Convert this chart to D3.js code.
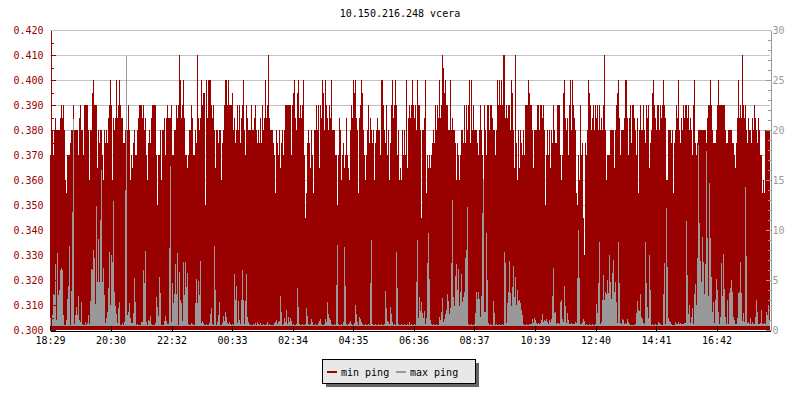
<!DOCTYPE html>
<html><head><meta charset="utf-8">
<script src="https://cdn.jsdelivr.net/npm/d3@7"></script>
<style>
html,body{margin:0;padding:0;background:#fff;}
svg{display:block;}
text{font-family:"DejaVu Sans Mono",monospace;font-size:10px;}
</style></head><body>
<svg id="chart" width="800" height="400"></svg>
<script>
const title = "10.150.216.248 vcera";
const startLabel = "18:29";
const stepMinutes = 2;
const spanMinutes = 1440;
const timeLabels = ["18:29","20:30","22:32","00:33","02:34","04:35","06:36","08:37","10:39","12:40","14:41","16:42"];
const leftTicks = [0.300,0.310,0.320,0.330,0.340,0.350,0.360,0.370,0.380,0.390,0.400,0.410,0.420];
const leftMinor = [0.305,0.315,0.325,0.335,0.345,0.355,0.365,0.375,0.385,0.395,0.405,0.415];
const rightTicks = [0,5,10,15,20,25,30];
const rightMinor = [1,2,3,4,6,7,8,9,11,12,13,14,16,17,18,19,21,22,23,24,26,27,28,29];
const seriesNames = ["min ping","max ping"];
const seriesColors = ["#990000","#999999"];

const minPing = [
.370,.370,.380,.370,.380,.385,.380,.380,.380,.380,
.385,.390,.385,.390,.380,.360,.355,.370,.370,.370,
.375,.380,.380,.390,.380,.380,.380,.380,.370,.385,
.390,.380,.380,.370,.390,.390,.390,.390,.380,.360,
.380,.380,.395,.400,.390,.390,.390,.365,.380,.375,
.380,.380,.370,.360,.380,.375,.380,.375,.385,.390,
.400,.390,.360,.385,.380,.385,.400,.385,.390,.400,
.390,.385,.385,.375,.375,.380,.370,.380,.390,.380,
.360,.370,.365,.375,.380,.370,.370,.380,.385,.390,
.390,.390,.385,.390,.380,.385,.370,.360,.375,.380,
.375,.385,.390,.390,.390,.390,.370,.350,.370,.370,
.380,.360,.380,.380,.385,.370,.385,.390,.385,.385,
.385,.390,.370,.370,.380,.380,.390,.385,.390,.410,
.400,.385,.390,.400,.385,.370,.370,.365,.370,.380,
.380,.390,.385,.370,.370,.380,.375,.410,.385,.380,
.385,.400,.390,.395,.395,.350,.400,.385,.400,.400,
.400,.390,.385,.390,.380,.365,.380,.380,.375,.380,
.380,.360,.375,.380,.390,.400,.400,.390,.400,.390,
.390,.390,.395,.380,.385,.375,.380,.390,.380,.390,
.375,.385,.390,.400,.380,.370,.390,.385,.380,.380,
.380,.390,.380,.380,.385,.390,.380,.375,.380,.375,
.385,.375,.390,.380,.385,.400,.385,.390,.410,.385,
.380,.380,.380,.375,.370,.355,.380,.375,.370,.380,
.365,.375,.380,.370,.380,.390,.390,.390,.390,.390,
.390,.370,.390,.395,.400,.385,.380,.395,.400,.385,
.390,.385,.390,.400,.370,.345,.355,.375,.380,.375,
.365,.380,.370,.355,.380,.380,.390,.380,.390,.365,
.390,.385,.400,.395,.380,.400,.390,.385,.380,.390,
.385,.400,.380,.380,.380,.370,.370,.350,.370,.385,
.380,.360,.370,.375,.365,.370,.385,.370,.365,.360,
.380,.390,.385,.400,.395,.400,.385,.380,.355,.385,
.390,.400,.395,.380,.370,.360,.370,.380,.390,.375,
.385,.380,.375,.380,.360,.375,.380,.385,.380,.380,
.370,.400,.400,.390,.380,.375,.390,.370,.380,.360,
.375,.390,.400,.385,.390,.400,.390,.370,.380,.360,
.365,.360,.380,.370,.380,.370,.400,.365,.385,.390,
.385,.390,.400,.390,.385,.390,.380,.400,.390,.390,
.380,.345,.380,.380,.385,.400,.355,.370,.365,.370,
.365,.370,.375,.380,.375,.390,.380,.390,.385,.400,
.385,.390,.410,.405,.395,.400,.390,.390,.380,.380,
.400,.380,.385,.380,.380,.375,.360,.375,.370,.360,
.370,.380,.380,.375,.390,.375,.390,.380,.390,.400,
.375,.400,.380,.390,.380,.380,.380,.375,.370,.380,
.390,.380,.370,.355,.390,.380,.370,.390,.390,.380,
.390,.390,.385,.380,.380,.370,.380,.400,.390,.400,
.390,.400,.390,.410,.410,.385,.390,.385,.390,.390,
.380,.400,.395,.380,.365,.410,.375,.360,.380,.365,
.380,.375,.370,.380,.370,.390,.390,.390,.400,.395,
.390,.390,.380,.365,.380,.380,.380,.390,.390,.380,
.390,.390,.385,.390,.380,.350,.370,.380,.370,.380,
.365,.380,.375,.390,.380,.375,.375,.390,.390,.390,
.370,.360,.370,.395,.400,.385,.380,.385,.370,.390,
.400,.380,.400,.390,.385,.380,.355,.350,.370,.360,
.390,.370,.375,.345,.330,.375,.370,.380,.400,.395,
.390,.380,.385,.390,.380,.390,.385,.390,.380,.390,
.380,.385,.380,.390,.410,.380,.360,.370,.370,.370,
.380,.380,.380,.380,.365,.380,.390,.395,.400,.385,
.370,.380,.380,.380,.385,.400,.400,.385,.370,.385,
.390,.375,.390,.390,.385,.380,.370,.385,.355,.380,
.390,.380,.380,.390,.380,.375,.390,.385,.390,.365,
.375,.380,.395,.400,.390,.385,.380,.390,.390,.380,
.390,.385,.390,.400,.390,.385,.360,.360,.380,.380,
.380,.375,.380,.355,.375,.380,.390,.385,.400,.380,
.375,.385,.380,.390,.385,.390,.390,.385,.390,.380,
.385,.380,.370,.390,.400,.375,.370,.375,.380,.380,
.380,.380,.380,.380,.380,.380,.375,.385,.390,.390,
.400,.390,.380,.375,.375,.375,.380,.390,.400,.390,
.390,.390,.390,.390,.390,.380,.375,.375,.380,.380,
.380,.380,.375,.375,.370,.365,.375,.385,.400,.385,
.390,.385,.410,.390,.385,.390,.380,.375,.385,.380,
.380,.375,.385,.380,.390,.385,.380,.375,.385,.380,
.370,.370,.355,.360,.355,.380,.380,.380,.380,.380
];

const maxPing = [
1.2,4.7,1.5,3.6,3.5,6.6,1.0,7.7,3.5,4.0,
6.0,6.2,6.0,1.5,0.5,0.5,1.0,3.1,4.4,8.4,
0.5,3.9,11.8,21.1,0.6,1.5,2.3,1.5,3.4,1.0,
0.8,2.8,0.6,0.5,0.5,0.8,0.5,0.7,1.5,0.6,
2.9,6.1,6.0,8.0,7.2,2.6,12.4,4.8,9.1,4.8,
11.0,16.0,4.8,6.2,3.5,0.7,1.2,1.8,4.2,7.8,
2.5,7.5,6.8,12.9,3.8,2.4,1.6,0.7,2.2,2.8,
0.5,0.5,0.7,0.5,0.8,14.0,27.4,1.5,1.8,2.7,
1.2,0.7,0.7,1.7,5.2,2.8,0.5,0.6,0.5,0.5,
0.5,0.8,0.8,6.0,4.7,7.9,0.8,0.5,1.0,0.9,
1.4,0.6,0.5,0.5,0.5,0.7,3.3,2.3,1.4,5.3,
3.7,0.5,0.5,0.5,0.9,1.4,0.9,0.6,0.6,8.2,
16.4,0.8,4.7,2.7,3.6,6.6,3.6,7.7,0.5,5.8,
3.0,2.7,0.9,6.8,3.5,6.8,4.3,5.7,0.6,0.5,
0.5,0.7,0.6,0.5,0.5,2.7,5.1,2.7,4.9,3.5,
6.9,0.7,0.9,0.7,0.5,0.5,0.6,0.5,0.5,0.7,
1.6,2.2,0.6,0.5,8.4,4.0,0.5,0.8,1.5,2.8,
0.5,0.5,0.7,1.4,0.9,1.8,1.3,0.7,0.6,0.8,
0.6,0.5,0.6,0.5,5.6,3.0,4.4,0.7,2.9,1.0,
0.6,3.0,6.0,3.0,0.6,2.9,5.6,1.3,0.8,0.6,
0.5,0.5,0.5,0.6,0.5,0.7,0.5,0.8,0.6,0.5,
0.7,0.5,0.5,0.6,0.5,0.5,0.6,0.8,0.5,0.6,
0.5,0.5,0.5,0.5,0.7,0.8,1.0,0.6,0.8,0.9,
3.4,1.8,0.5,0.6,1.2,0.8,2.0,0.6,1.3,0.8,
1.2,0.9,0.5,0.6,0.5,0.5,0.6,4.2,2.3,0.6,
0.5,0.5,0.6,0.5,0.5,0.6,2.2,1.4,0.6,0.5,
0.6,1.1,0.8,0.5,0.5,0.6,0.5,0.5,0.7,0.9,
1.1,0.6,0.5,0.5,0.6,1.1,0.8,2.8,1.6,1.2,
1.0,0.6,0.5,0.5,0.6,0.5,4.5,8.5,0.6,0.5,
0.5,0.6,0.5,0.8,8.3,4.4,0.6,0.5,0.6,0.7,
0.9,0.6,0.5,0.5,0.7,2.5,1.6,0.8,0.5,1.3,
1.1,0.8,0.6,0.5,0.5,0.6,0.5,0.5,0.6,0.5,
4.7,9.0,0.6,0.5,0.5,0.6,0.5,0.5,0.6,0.5,
0.5,0.6,0.5,0.5,0.6,3.9,2.2,0.9,0.8,0.6,
2.3,1.6,0.8,0.5,0.6,0.5,7.8,4.2,0.6,0.5,
0.5,0.6,0.5,0.5,0.6,0.5,0.5,0.6,0.5,0.8,
0.5,0.6,0.5,0.5,0.6,0.5,4.8,9.0,1.2,3.3,
1.9,2.8,1.7,1.2,1.9,0.6,1.2,6.7,9.7,5.1,
1.0,0.6,0.5,0.6,0.5,0.5,0.6,0.5,0.5,1.3,
1.0,1.8,3.2,0.8,1.1,1.6,2.0,3.6,2.9,1.6,
2.2,6.7,13.0,3.3,2.4,5.4,6.6,4.0,6.1,2.4,
3.8,5.6,2.8,3.3,3.8,7.2,8.0,12.3,0.6,0.5,
0.5,0.6,0.5,0.5,0.6,1.7,3.8,3.1,3.8,3.1,
1.3,3.4,11.7,15.1,1.8,1.8,9.7,5.0,0.7,0.5,
0.6,0.5,0.5,2.9,1.7,0.5,0.6,0.5,0.5,0.6,
0.5,0.5,0.6,0.5,7.8,6.7,0.7,2.7,3.8,6.9,
3.7,2.4,4.3,6.4,3.3,5.3,2.5,4.0,2.9,3.0,
2.7,2.0,1.5,0.6,0.5,0.5,0.6,0.5,0.5,0.6,
0.6,0.6,1.1,0.7,1.2,1.0,0.7,0.6,0.7,0.6,
0.7,1.0,1.6,0.8,1.0,0.9,1.1,0.8,0.6,1.0,
0.8,1.1,3.4,6.2,1.7,1.8,0.6,0.7,0.7,0.6,
2.8,3.0,1.1,0.8,4.4,2.4,0.7,1.7,1.0,0.6,
0.6,0.7,0.6,0.6,0.6,0.8,0.7,5.2,10.0,5.2,
0.6,0.6,0.8,1.1,0.9,0.5,0.6,0.5,0.5,0.6,
0.5,0.5,0.6,0.5,0.5,0.6,2.6,1.7,4.7,8.8,
0.6,0.8,3.0,5.5,3.0,3.8,3.6,5.0,3.7,7.5,
4.8,3.1,5.7,7.0,3.8,4.8,2.8,0.7,8.8,4.7,
0.7,0.6,1.1,1.0,0.6,0.7,0.6,1.1,0.8,0.6,
0.5,0.5,0.5,0.5,0.5,0.6,1.7,2.9,2.0,1.9,
3.6,1.3,1.1,0.7,0.6,8.8,4.7,2.3,1.2,7.5,
4.0,0.5,0.6,0.5,0.5,0.6,0.5,0.5,0.8,0.7,
0.6,0.5,0.5,3.6,6.7,0.6,12.2,6.3,1.2,0.9,
0.8,0.6,0.5,0.5,0.5,0.8,0.6,0.6,0.8,0.6,
0.7,0.6,0.6,0.6,0.7,0.7,10.9,5.5,1.6,2.5,
0.7,1.3,2.2,0.6,3.6,4.6,2.5,7.2,18.5,10.7,
6.9,4.8,9.3,6.8,3.6,6.6,17.9,9.2,3.4,14.7,
9.2,5.3,1.8,2.8,0.7,3.0,5.1,4.0,1.8,0.6,
1.3,6.7,3.4,7.6,4.1,1.3,0.6,3.0,0.6,3.7,
4.2,5.0,3.8,1.3,1.0,0.6,0.6,1.2,3.7,3.8,
6.8,3.7,0.9,1.7,0.8,14.3,7.4,0.7,0.8,0.6,
1.2,0.6,0.8,0.6,0.6,1.3,3.0,1.8,0.6,0.6,
0.7,2.0,0.6,0.6,0.7,0.6,1.8,1.5,2.5,1.0
];

const grayBase = 0.4;

// ---------- layout ----------
const W = 800, H = 400;
const plot = {left: 50, right: 770, top: 30, bottom: 330};

const svg = d3.select("#chart");
svg.append("rect").attr("width", W).attr("height", H).attr("fill", "#fff");

function parseHM(s, ref) {
  const [h, m] = s.split(":").map(Number);
  let d = new Date(2000, 0, 1, h, m);
  if (ref && d < ref) d = d3.timeDay.offset(d, 1);
  return d;
}
const t0 = parseHM(startLabel);
const tickDates = timeLabels.map(s => parseHM(s, t0));
const sampleTime = i => d3.timeMinute.offset(t0, i * stepMinutes);

const x = d3.scaleTime().domain([t0, d3.timeMinute.offset(t0, spanMinutes)]).range([plot.left, plot.right]);
const yL = d3.scaleLinear().domain([leftTicks[0], leftTicks[leftTicks.length - 1]]).range([plot.bottom, plot.top]);
const yR = d3.scaleLinear().domain([rightTicks[0], rightTicks[rightTicks.length - 1]]).range([plot.bottom, plot.top]);

// grid
svg.append("g").selectAll("line").data(leftTicks.slice(1)).join("line")
  .attr("x1", plot.left).attr("x2", plot.right)
  .attr("y1", d => Math.round(yL(d)) + 0.5).attr("y2", d => Math.round(yL(d)) + 0.5)
  .attr("stroke", "#c4c4c4").attr("stroke-width", 1);

const barW = x(sampleTime(1)) - x(sampleTime(0));

// min ping (left axis)
svg.append("g").attr("shape-rendering", "crispEdges").selectAll("rect").data(minPing).join("rect")
  .attr("x", (d, i) => x(sampleTime(i)))
  .attr("width", barW)
  .attr("y", d => yL(d))
  .attr("height", d => yL(leftTicks[0]) - yL(d))
  .attr("fill", seriesColors[0]);

// max ping (right axis)
svg.append("g").attr("shape-rendering", "crispEdges").selectAll("rect").data(maxPing).join("rect")
  .attr("x", (d, i) => x(sampleTime(i)))
  .attr("width", barW)
  .attr("y", d => yR(Math.max(d, grayBase)))
  .attr("height", d => Math.max(0, yR(grayBase) - yR(d)))
  .attr("fill", seriesColors[1]);

// left axis
const gL = svg.append("g").attr("transform", `translate(${plot.left + 0.5},0)`).attr("shape-rendering", "crispEdges");
gL.call(d3.axisLeft(yL).tickValues(leftTicks).tickFormat(d3.format(".3f")).tickSizeInner(-5).tickSizeOuter(0).tickPadding(7));
gL.append("g").call(d3.axisLeft(yL).tickValues(leftMinor).tickFormat("").tickSizeInner(-3).tickSizeOuter(0))
  .select(".domain").remove();
gL.selectAll("path,line").attr("stroke", seriesColors[0]);
gL.selectAll("text").attr("fill", seriesColors[0]).style("font-family", '"DejaVu Sans Mono",monospace').style("font-size", "10px");

// right axis
const gR = svg.append("g").attr("transform", `translate(${plot.right + 0.5},0)`).attr("shape-rendering", "crispEdges");
gR.call(d3.axisRight(yR).tickValues(rightTicks).tickSizeInner(-5).tickSizeOuter(0).tickPadding(2));
gR.append("g").call(d3.axisRight(yR).tickValues(rightMinor).tickFormat("").tickSizeInner(-3).tickSizeOuter(0))
  .select(".domain").remove();
gR.selectAll("path,line").attr("stroke", "#999999");
gR.selectAll("text").attr("fill", "#999999").style("font-family", '"DejaVu Sans Mono",monospace').style("font-size", "10px");

// top border line
svg.append("line").attr("x1", plot.left).attr("x2", plot.right)
  .attr("y1", plot.top + 0.5).attr("y2", plot.top + 0.5).attr("stroke", "#c4c4c4");

// bottom axis
const gB = svg.append("g").attr("transform", `translate(0,${plot.bottom + 0.5})`).attr("shape-rendering", "crispEdges");
gB.call(d3.axisBottom(x).tickValues(tickDates).tickFormat((d, i) => timeLabels[i]).tickSizeInner(-5).tickSizeOuter(0).tickPadding(6));
gB.selectAll("path,line").attr("stroke", "#000");
gB.selectAll("text").attr("fill", "#000").style("font-family", '"DejaVu Sans Mono",monospace').style("font-size", "10px");

// title
svg.append("text").attr("x", W / 2).attr("y", 17).attr("text-anchor", "middle").attr("fill", "#000").text(title);

// legend
const lg = svg.append("g").attr("shape-rendering", "crispEdges");
lg.append("rect").attr("x", 326).attr("y", 363).attr("width", 153).attr("height", 24).attr("fill", "#666");
lg.append("rect").attr("x", 322.5).attr("y", 359.5).attr("width", 153).attr("height", 24).attr("fill", "#e8e8e8").attr("stroke", "#000");
const legendX = [327, 396];
seriesNames.forEach((name, k) => {
  lg.append("rect").attr("x", legendX[k]).attr("y", 371).attr("width", 10).attr("height", 2).attr("fill", seriesColors[k]);
  lg.append("text").attr("x", legendX[k] + 14).attr("y", 375.5).attr("fill", "#000").text(name);
});
</script>
</body></html>
